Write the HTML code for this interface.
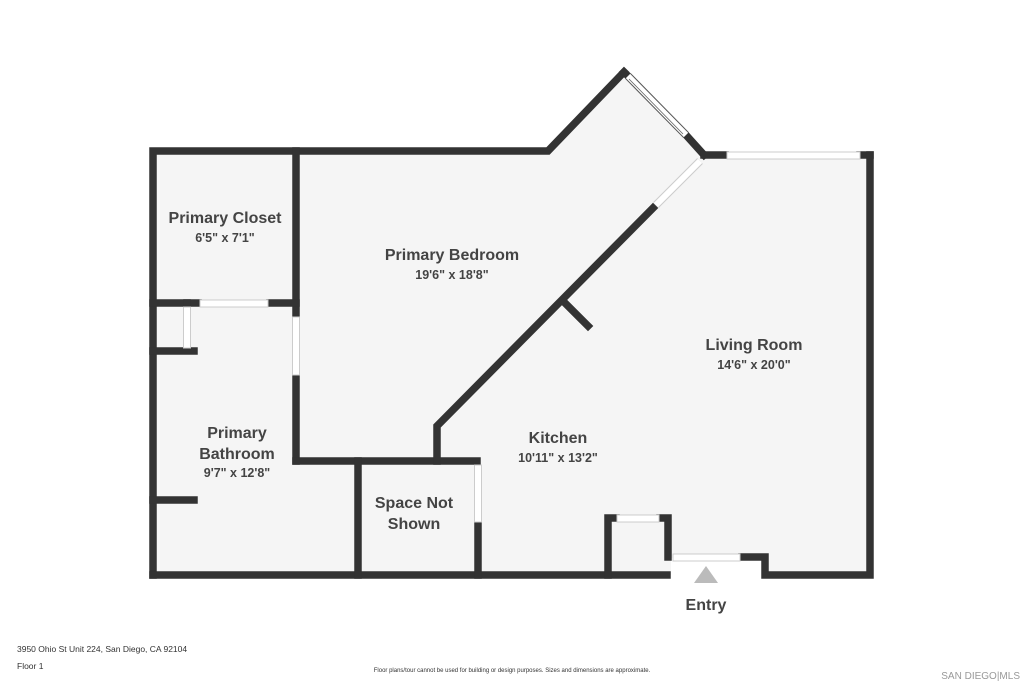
<!DOCTYPE html>
<html><head><meta charset="utf-8"><style>
html,body{margin:0;padding:0;background:#fff;}
body{width:1024px;height:683px;overflow:hidden;font-family:"Liberation Sans",sans-serif;}
</style></head><body>
<svg width="1024" height="683" viewBox="0 0 1024 683" xmlns="http://www.w3.org/2000/svg">
<!-- floor -->
<polygon points="153,151 548,151 624,72 705,155 870,155 870,575 153,575" fill="#f5f5f5"/>
<rect x="671" y="558" width="92" height="20" fill="#fff"/>
<g stroke="#333" stroke-width="7.5" fill="none" stroke-linecap="square">
<!-- outer -->
<polyline points="153,575 153,151 548,151 624,72"/>
<line x1="624" y1="72" x2="628" y2="76"/>
<line x1="686" y1="135" x2="704" y2="155"/>
<line x1="704" y1="155" x2="725" y2="155"/>
<line x1="860" y1="155" x2="870" y2="155"/>
<polyline points="870,155 870,575 765,575 765,557 742,557"/>
<line x1="153" y1="575" x2="667" y2="575"/>
<!-- kitchen closet -->
<polyline points="616,518 608,518 608,575"/>
<polyline points="660,518 668,518 668,557"/>
<!-- interior -->
<line x1="296" y1="151" x2="296" y2="313"/>
<line x1="296" y1="378" x2="296" y2="461"/>
<line x1="296" y1="461" x2="477" y2="461"/>
<line x1="478" y1="524" x2="478" y2="575"/>
<line x1="358" y1="461" x2="358" y2="575"/>
<polyline points="437,461 437,426 653,208"/>
<line x1="563" y1="301" x2="588" y2="326"/>
<line x1="153" y1="303" x2="198" y2="303"/>
<line x1="270" y1="303" x2="296" y2="303"/>
<line x1="153" y1="351" x2="194" y2="351"/>
<line x1="153" y1="500" x2="194" y2="500"/>
<line x1="187" y1="303" x2="187" y2="306"/>
</g>
<!-- windows -->
<g fill="#fff" stroke="#ccc" stroke-width="1">
<rect x="200" y="300" width="68" height="7"/>
<rect x="183.5" y="307" width="7" height="41"/>
<rect x="292.5" y="317" width="7" height="58"/>
<rect x="474.5" y="465" width="7" height="57"/>
<rect x="727" y="152" width="133" height="7"/>
<rect x="617" y="515" width="42" height="7"/>
<rect x="673" y="554" width="67" height="7"/>
</g>
<line x1="700" y1="161" x2="656" y2="205" stroke="#ccc" stroke-width="8"/>
<line x1="700" y1="161" x2="656" y2="205" stroke="#fff" stroke-width="6"/>
<line x1="628" y1="76" x2="686" y2="135" stroke="#555" stroke-width="8"/>
<line x1="628" y1="76" x2="686" y2="135" stroke="#fff" stroke-width="6"/>
<line x1="629" y1="79" x2="683" y2="134" stroke="#666" stroke-width="0.8"/>
<!-- entry arrow -->
<polygon points="706,566 694,583 718,583" fill="#bbb"/>
<g fill="#444" font-family="Liberation Sans, sans-serif" font-weight="bold" text-anchor="middle">
<text x="225" y="223" font-size="16">Primary Closet</text>
<text x="225" y="242" font-size="12.5">6'5" x 7'1"</text>
<text x="452" y="260" font-size="16">Primary Bedroom</text>
<text x="452" y="279" font-size="12.5">19'6" x 18'8"</text>
<text x="754" y="350" font-size="16">Living Room</text>
<text x="754" y="369" font-size="12.5">14'6" x 20'0"</text>
<text x="558" y="443" font-size="16">Kitchen</text>
<text x="558" y="462" font-size="12.5">10'11" x 13'2"</text>
<text x="237" y="438" font-size="16">Primary</text>
<text x="237" y="459" font-size="16">Bathroom</text>
<text x="237" y="477" font-size="12.5">9'7" x 12'8"</text>
<text x="414" y="508" font-size="16">Space Not</text>
<text x="414" y="529" font-size="16">Shown</text>
<text x="706" y="610" font-size="16">Entry</text>
</g>
<g fill="#333" font-family="Liberation Sans, sans-serif">
<text x="17" y="652" font-size="8.5">3950 Ohio St Unit 224, San Diego, CA 92104</text>
<text x="17" y="669" font-size="8.5">Floor 1</text>
<text x="512" y="672" font-size="6" text-anchor="middle">Floor plans/tour cannot be used for building or design purposes. Sizes and dimensions are approximate.</text>
<text x="1020" y="679" font-size="10" text-anchor="end" fill="#999">SAN DIEGO|MLS</text>
</g>
</svg>
</body></html>
